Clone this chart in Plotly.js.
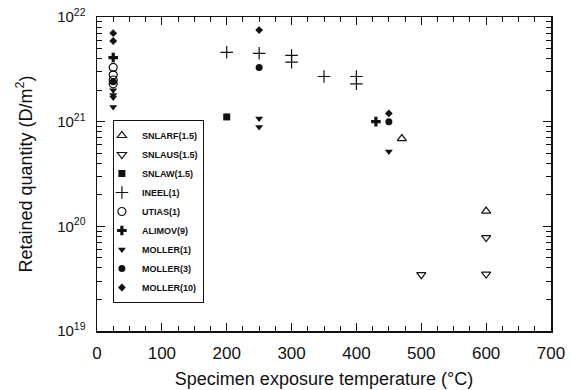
<!DOCTYPE html>
<html><head><meta charset="utf-8">
<script src="https://cdn.plot.ly/plotly-3.0.1.min.js"></script>
<style>html,body{margin:0;padding:0;background:#fff}#c{width:571px;height:390px}</style>
</head><body><div id="c"></div>
<script>
const seriesNames = ["SNLARF(1.5)","SNLAUS(1.5)","SNLAW(1.5)","INEEL(1)","UTIAS(1)","ALIMOV(9)","MOLLER(1)","MOLLER(3)","MOLLER(10)"];
const snlarfX = [470, 600];
const snlarfY = [6.9e20, 1.4e20];
const snlausX = [500, 600, 600];
const snlausY = [3.45e19, 7.8e19, 3.5e19];
const snlawX = [200];
const snlawY = [1.11e21];
const ineelX = [200, 250, 300, 300, 350, 400, 400];
const ineelY = [4.6e21, 4.5e21, 4.3e21, 3.7e21, 2.7e21, 2.7e21, 2.3e21];
const utiasX = [25, 25, 25, 25];
const utiasY = [3.3e21, 2.8e21, 2.5e21, 2.3e21];
const alimovX = [25, 430];
const alimovY = [4.1e21, 1.0e21];
const moller1X = [25, 25, 25, 25, 250, 250, 450];
const moller1Y = [2.0e21, 1.8e21, 1.7e21, 1.38e21, 1.07e21, 0.89e21, 5.2e20];
const moller3X = [25, 250, 450];
const moller3Y = [2.4e21, 3.3e21, 1.0e21];
const moller10X = [25, 25, 250, 450];
const moller10Y = [7.0e21, 5.9e21, 7.5e21, 1.2e21];
const xTicks = [0, 100, 200, 300, 400, 500, 600, 700];
const yTicks = [1e19, 1e20, 1e21, 1e22];
const yTickText = ["10<sup>19</sup>","10<sup>20</sup>","10<sup>21</sup>","10<sup>22</sup>"];

const xs = [snlarfX, snlausX, snlawX, ineelX, utiasX, alimovX, moller1X, moller3X, moller10X];
const ys = [snlarfY, snlausY, snlawY, ineelY, utiasY, alimovY, moller1Y, moller3Y, moller10Y];
const ink = '#111';
const markers = [
  {symbol:'triangle-up-open', size:8, color:ink, line:{width:1.2,color:ink}},
  {symbol:'triangle-down-open', size:8, color:ink, line:{width:1.2,color:ink}},
  {symbol:'square', size:7, color:ink},
  {symbol:'cross-thin-open', size:9, color:ink, line:{width:1.2,color:ink}},
  {symbol:'circle-open', size:8, color:ink, line:{width:1.2,color:ink}},
  {symbol:'cross', size:8, color:ink},
  {symbol:'triangle-down', size:7, color:ink},
  {symbol:'circle', size:7, color:ink},
  {symbol:'diamond', size:6, color:ink}
];
const data = seriesNames.map((n,i)=>({
  type:'scatter', mode:'markers', name:n, legendgroup:'g'+i, x:xs[i], y:ys[i], marker:markers[i]
}));
const fontFam = 'Liberation Sans, Arial, sans-serif';
const layout = {
  width:571, height:390,
  margin:{l:97, r:20, t:17, b:59},
  paper_bgcolor:'#fff', plot_bgcolor:'#fff',
  font:{family:fontFam, color:ink, size:16},
  showlegend:true,
  legend:{x:0.035, y:0.672, xanchor:'left', yanchor:'top', bgcolor:'#fff',
    bordercolor:ink, borderwidth:1, font:{size:9, family:fontFam, weight:'bold'},
    traceorder:'normal', tracegroupgap:1.2, itemwidth:30, indentation:-12},
  xaxis:{range:[0,700], tickvals:xTicks, ticks:'inside', ticklen:8, tickwidth:1.2,
    tickcolor:ink, showline:true, linewidth:1.5, linecolor:ink, mirror:'ticks',
    showgrid:false, zeroline:false, tickfont:{size:17}, ticklabelstandoff:6,
    minor:{dtick:25, ticks:'inside', ticklen:5, tickwidth:1, tickcolor:ink, showgrid:false},
    title:{text:'Specimen exposure temperature (°C)', font:{size:18}, standoff:10}},
  yaxis:{type:'log', range:[19,22], tickvals:yTicks, ticktext:yTickText, ticks:'inside',
    ticklen:8, tickwidth:1.2, tickcolor:ink, showline:true, linewidth:1.5, linecolor:ink,
    mirror:'ticks', showgrid:false, zeroline:false, tickfont:{size:15}, ticklabelstandoff:7,
    minor:{dtick:'D1', ticks:'inside', ticklen:5, tickwidth:1, tickcolor:ink, showgrid:false},
    title:{text:'Retained quantity (D/m<sup>2</sup>)', font:{size:18}, standoff:20}}
};
Plotly.newPlot('c', data, layout, {displayModeBar:false, staticPlot:true});
</script></body></html>
